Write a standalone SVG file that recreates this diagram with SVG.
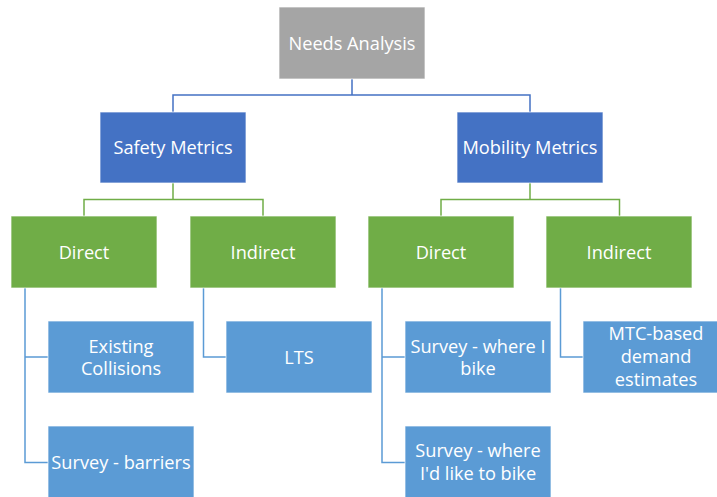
<svg xmlns="http://www.w3.org/2000/svg" width="717" height="497" viewBox="0 0 717 497">
<style>
.box{stroke:#ffffff;stroke-width:1;stroke-opacity:0.7}
.gray{fill:#A5A5A5}
.blue{fill:#4472C4}
.green{fill:#70AD47}
.leaf{fill:#5B9BD5}
.lbl{font-family:"Open Sans","Liberation Sans",sans-serif;font-size:18.2px;fill:#ffffff;text-anchor:middle}
.c1{stroke:#4472C4;stroke-width:1.5;fill:none}
.c2{stroke:#70AD47;stroke-width:1.5;fill:none}
.c3{stroke:#5B9BD5;stroke-width:1.5;fill:none}
</style>
<rect width="717" height="497" fill="#ffffff"/>
<g id="connectors">
<path class="c1" d="M352,79V95M173,112V95H530V112"/>
<path class="c2" d="M173,183V199.5M84,216V199.5H263V216"/>
<path class="c2" d="M530,183V199.5M441,216V199.5H619.5V216"/>
<path class="c3" d="M25,288V462.5H48M25,357H48"/>
<path class="c3" d="M203.5,288V357H226"/>
<path class="c3" d="M382,288V462.5H405M382,357H405"/>
<path class="c3" d="M560.5,288V357H583"/>
</g>
<g id="needs-analysis"><rect class="box gray" x="279" y="7" width="146" height="72"/><text class="lbl" x="352" y="49.5">Needs Analysis</text></g>
<g id="safety-metrics"><rect class="box blue" x="100" y="112" width="146" height="71"/><text class="lbl" x="173" y="154">Safety Metrics</text></g>
<g id="mobility-metrics"><rect class="box blue" x="457" y="112" width="146" height="71"/><text class="lbl" x="530" y="154">Mobility Metrics</text></g>
<g id="safety-direct"><rect class="box green" x="11" y="216" width="146" height="72"/><text class="lbl" x="84" y="258.5">Direct</text></g>
<g id="safety-indirect"><rect class="box green" x="190" y="216" width="146" height="72"/><text class="lbl" x="263" y="258.5">Indirect</text></g>
<g id="mobility-direct"><rect class="box green" x="368" y="216" width="146" height="72"/><text class="lbl" x="441" y="258.5">Direct</text></g>
<g id="mobility-indirect"><rect class="box green" x="546" y="216" width="146" height="72"/><text class="lbl" x="619" y="258.5">Indirect</text></g>
<g id="existing-collisions"><rect class="box leaf" x="48" y="321" width="146" height="72"/><text class="lbl" x="121" y="352.5">Existing</text><text class="lbl" x="121" y="375">Collisions</text></g>
<g id="survey-barriers"><rect class="box leaf" x="48" y="426" width="146" height="72"/><text class="lbl" x="121" y="468.5">Survey - barriers</text></g>
<g id="lts"><rect class="box leaf" x="226" y="321" width="146" height="72"/><text class="lbl" x="299" y="363.5">LTS</text></g>
<g id="survey-where-i-bike"><rect class="box leaf" x="405" y="321" width="146" height="72"/><text class="lbl" x="478" y="352.5">Survey - where I</text><text class="lbl" x="478" y="375">bike</text></g>
<g id="survey-where-id-like"><rect class="box leaf" x="405" y="426" width="146" height="72"/><text class="lbl" x="478" y="457">Survey - where</text><text class="lbl" x="478" y="479.5">I'd like to bike</text></g>
<g id="mtc-demand"><rect class="box leaf" x="583" y="321" width="146" height="72"/><text class="lbl" x="656" y="340">MTC-based</text><text class="lbl" x="656" y="362.5">demand</text><text class="lbl" x="656" y="385.5">estimates</text></g>
</svg>
